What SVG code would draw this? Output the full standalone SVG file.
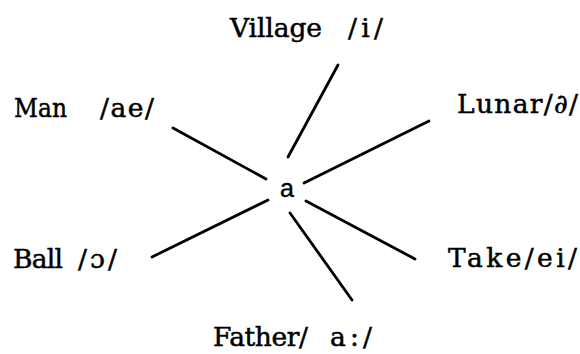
<svg xmlns="http://www.w3.org/2000/svg" width="580" height="354" viewBox="0 0 580 354">
<style>
.lbl{font-family:"DejaVu Serif","Liberation Serif",serif;font-size:26.5px;fill:#000;stroke:#000;stroke-width:0.5}
.ctr{font-family:"Liberation Sans",Arial,sans-serif;font-size:25px;fill:#000;stroke:#000;stroke-width:0.4}
.ln{stroke:#000;stroke-width:2.8;stroke-linecap:round;fill:none}
</style>
<rect width="580" height="354" fill="#fff"/>
<g id="connectors">
<line class="ln" x1="288" y1="157" x2="338" y2="65"/>
<line class="ln" x1="304" y1="183" x2="429" y2="121"/>
<line class="ln" x1="173" y1="128" x2="266" y2="179"/>
<line class="ln" x1="152" y1="257" x2="268" y2="200"/>
<line class="ln" x1="306" y1="201" x2="415" y2="259"/>
<line class="ln" x1="290" y1="213" x2="352" y2="300"/>
</g>
<g id="center"><text class="ctr" x="287" y="197" text-anchor="middle">a</text></g>
<g id="village"><text class="lbl" y="37"><tspan x="230" textLength="92" lengthAdjust="spacing">Village</tspan><tspan x="348" textLength="35" lengthAdjust="spacing">/i/</tspan></text></g>
<g id="man"><text class="lbl" y="117"><tspan x="14" textLength="53" lengthAdjust="spacingAndGlyphs">Man</tspan><tspan x="100" textLength="54" lengthAdjust="spacing">/ae/</tspan></text></g>
<g id="lunar"><text class="lbl" x="457" y="113" textLength="121" lengthAdjust="spacing">Lunar/∂/</text></g>
<g id="ball"><text class="lbl" y="268"><tspan x="13" textLength="50" lengthAdjust="spacing">Ball</tspan><tspan x="78" textLength="39" lengthAdjust="spacing">/ɔ/</tspan></text></g>
<g id="take"><text class="lbl" x="448" y="267" textLength="129" lengthAdjust="spacing">Take/ei/</text></g>
<g id="father"><text class="lbl" y="346"><tspan x="213" textLength="95" lengthAdjust="spacing">Father/</tspan><tspan x="330" textLength="42" lengthAdjust="spacing">a:/</tspan></text></g>
</svg>
